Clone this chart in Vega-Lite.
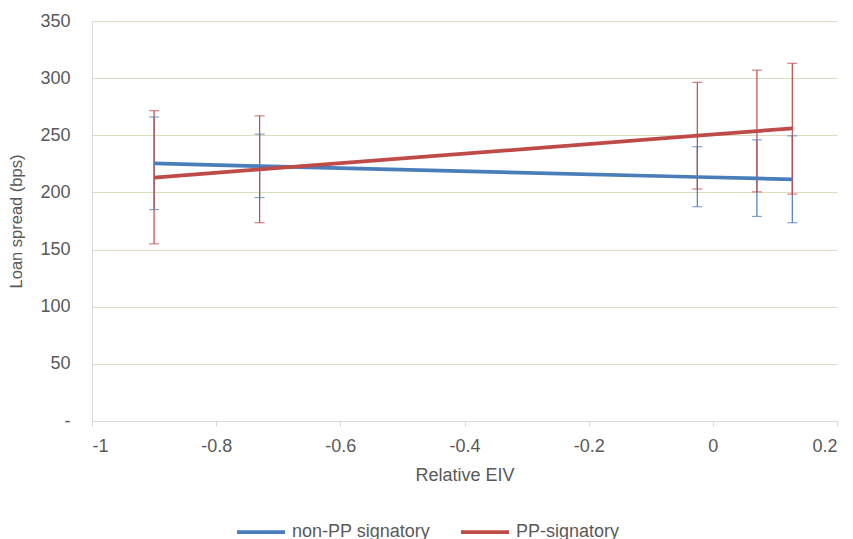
{
  "$schema": "https://vega.github.io/schema/vega-lite/v6.json",
  "width": 745,
  "height": 400,
  "autosize": "none",
  "padding": {"left": 92, "top": 21, "right": 16, "bottom": 118},
  "config": {
    "view": {"stroke": null},
    "font": "Liberation Sans",
    "axis": {
      "labelFont": "Liberation Sans",
      "titleFont": "Liberation Sans",
      "labelColor": "#595959",
      "titleColor": "#595959",
      "labelFontSize": 18,
      "titleFontSize": 18,
      "titleFontWeight": "normal"
    },
    "legend": {"labelFont": "Liberation Sans", "labelColor": "#595959"}
  },
  "data": {
    "values": [
      {"x": -0.9, "series": "non-PP signatory", "y": 225.5, "lo": 185, "hi": 266},
      {"x": -0.73, "series": "non-PP signatory", "y": 223, "lo": 195.5, "hi": 251},
      {"x": -0.025, "series": "non-PP signatory", "y": 213.5, "lo": 187.5, "hi": 240},
      {"x": 0.071, "series": "non-PP signatory", "y": 212.3, "lo": 179, "hi": 246},
      {"x": 0.128, "series": "non-PP signatory", "y": 211.4, "lo": 173.5, "hi": 249.5},
      {"x": -0.9, "series": "PP-signatory", "y": 213, "lo": 155, "hi": 271.5},
      {"x": -0.73, "series": "PP-signatory", "y": 220.2, "lo": 173.5, "hi": 267},
      {"x": -0.025, "series": "PP-signatory", "y": 249.6, "lo": 203, "hi": 296.3},
      {"x": 0.071, "series": "PP-signatory", "y": 253.7, "lo": 200.5, "hi": 307},
      {"x": 0.128, "series": "PP-signatory", "y": 256, "lo": 198.5, "hi": 313}
    ]
  },
  "encoding": {
    "x": {
      "field": "x",
      "type": "quantitative",
      "title": "Relative EIV",
      "scale": {"domain": [-1, 0.2], "nice": false, "zero": false},
      "axis": {
        "values": [-1, -0.8, -0.6, -0.4, -0.2, 0, 0.2],
        "labelExpr": "datum.value == 0 ? '0' : (datum.value < 0 ? '-' + format(-datum.value, '~g') : format(datum.value, '~g'))",
        "grid": false,
        "domainColor": "#d9d9d9",
        "tickColor": "#d9d9d9",
        "tickSize": 5,
        "labelPadding": 11,
        "titlePadding": 11
      }
    },
    "color": {
      "field": "series",
      "type": "nominal",
      "scale": {"domain": ["non-PP signatory", "PP-signatory"], "range": ["#4a7ebb", "#be4b48"]},
      "legend": {
        "title": null,
        "orient": "none",
        "direction": "horizontal",
        "legendX": 143,
        "legendY": 485,
        "symbolType": "stroke",
        "symbolSize": 2304,
        "symbolStrokeWidth": 3.75,
        "symbolOpacity": 1,
        "labelFontSize": 18,
        "labelOffset": 5,
        "columnPadding": 22
      }
    }
  },
  "layer": [
    {
      "mark": {"type": "rule", "strokeWidth": 1.2},
      "encoding": {
        "y": {
          "field": "lo",
          "type": "quantitative",
          "title": "Loan spread (bps)",
          "scale": {"domain": [0, 350], "nice": false},
          "axis": {
            "values": [0, 50, 100, 150, 200, 250, 300, 350],
            "labelExpr": "datum.value == 0 ? '-' : datum.label",
            "grid": true,
            "gridColor": "#dcdcc0",
            "gridWidth": 1.2,
            "ticks": false,
            "domainColor": "#d9d9d9",
            "labelPadding": 22,
            "titleFontSize": 16.5,
            "titlePadding": 15
          }
        },
        "y2": {"field": "hi"}
      }
    },
    {
      "mark": {"type": "tick", "orient": "horizontal", "size": 10, "thickness": 1.2},
      "encoding": {
        "y": {"field": "lo", "type": "quantitative"}
      }
    },
    {
      "mark": {"type": "tick", "orient": "horizontal", "size": 10, "thickness": 1.2},
      "encoding": {
        "y": {"field": "hi", "type": "quantitative"}
      }
    },
    {
      "mark": {"type": "line", "strokeWidth": 3.75},
      "encoding": {
        "y": {"field": "y", "type": "quantitative"}
      }
    }
  ]
}
